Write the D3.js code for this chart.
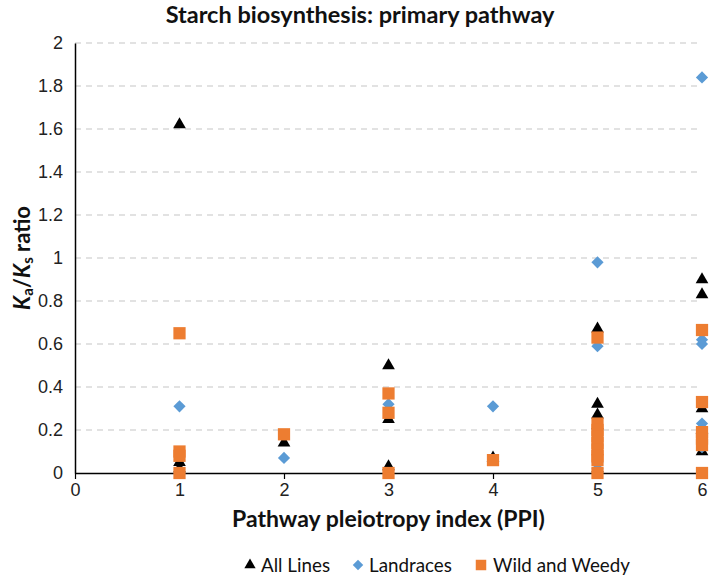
<!DOCTYPE html>
<html><head><meta charset="utf-8">
<script src="https://cdn.jsdelivr.net/npm/d3@7"></script>
<style>
html,body{margin:0;padding:0;background:#fff;}
svg{display:block;font-family:Lato,"Open Sans",sans-serif;}
</style></head>
<body>
<svg id="chart" width="709" height="576"></svg>
<script>
// ---- data ----
const xTicks = [0,1,2,3,4,5,6];
const yTicks = [0,0.2,0.4,0.6,0.8,1,1.2,1.4,1.6,1.8,2];
const seriesNames = ["All Lines","Landraces","Wild and Weedy"];
const allLinesPPI  = [1,1,1, 2, 3,3,3, 4, 5,5,5,5,5, 6,6,6,6,6];
const allLinesKaKs = [1.62,0.05,0.02, 0.14, 0.50,0.25,0.03, 0.07, 0.67,0.32,0.27,0.22,0.02, 0.90,0.83,0.30,0.20,0.10];
const landracesPPI  = [1,1, 2, 3, 4, 5,5,5,5,5, 6,6,6,6,6];
const landracesKaKs = [0.31,0.0, 0.07, 0.32, 0.31, 0.98,0.59,0.13,0.05,0.02, 1.84,0.62,0.60,0.23,0.12];
const wildPPI  = [1,1,1,1, 2, 3,3,3, 4, 5,5,5,5,5,5,5,5,5, 6,6,6,6,6,6];
const wildKaKs = [0.65,0.10,0.08,0.0, 0.18, 0.37,0.28,0.0, 0.06, 0.63,0.23,0.20,0.17,0.14,0.11,0.08,0.06,0.0, 0.665,0.33,0.19,0.16,0.13,0.0];

// ---- layout ----
const svg = d3.select("#chart");
const L = 75, R = 702, T = 43, B = 473;
const x = d3.scaleLinear().domain([0,6]).range([L,R]);
const y = d3.scaleLinear().domain([0,2]).range([B,T]);

const colors = {tri:"#000000", dia:"#5B9BD5", sq:"#ED7D31"};

// gridlines
svg.append("g").selectAll("line").data(yTicks.filter(d=>d>0)).join("line")
  .attr("x1",L).attr("x2",R).attr("y1",d=>y(d)).attr("y2",d=>y(d))
  .attr("stroke","#d9d9d9").attr("stroke-width",1.3).attr("stroke-dasharray","6,5");

// axes
const yAxis = d3.axisLeft(y).tickValues(yTicks).tickSize(0).tickPadding(12).tickFormat(d3.format("~g"));
const gy = svg.append("g").attr("transform",`translate(${L},0)`).call(yAxis);
gy.select(".domain").attr("stroke","#000").attr("stroke-width",1.5);
gy.selectAll("text").attr("font-size",18).attr("fill","#222");

const xAxis = d3.axisBottom(x).tickValues(xTicks).tickSize(6).tickPadding(4).tickSizeOuter(0).tickFormat(d3.format("d"));
const gx = svg.append("g").attr("transform",`translate(0,${B})`).call(xAxis);
gx.select(".domain").attr("stroke","#000").attr("stroke-width",1.5);
gx.selectAll(".tick line").attr("stroke","#000").attr("stroke-width",1.2);
gx.selectAll("text").attr("font-size",18).attr("fill","#222");

// markers
const tri = d3.symbol().type(d3.symbolTriangle).size(70);
const dia = d3.symbol().type(d3.symbolDiamond2).size(95);
const sq = d3.symbol().type(d3.symbolSquare).size(150);

function plot(xs, ys, sym, color){
  svg.append("g").selectAll("path").data(xs.map((d,i)=>[d,ys[i]])).join("path")
    .attr("d",sym).attr("fill",color)
    .attr("transform",d=>`translate(${x(d[0])},${y(d[1])})`);
}
plot(allLinesPPI, allLinesKaKs, tri, colors.tri);
plot(landracesPPI, landracesKaKs, dia, colors.dia);
plot(wildPPI, wildKaKs, sq, colors.sq);

// title
svg.append("text").attr("x",360).attr("y",23).attr("text-anchor","middle")
  .attr("font-size",23.5).attr("font-weight","bold").attr("fill","#111")
  .text("Starch biosynthesis: primary pathway");

// x title
svg.append("text").attr("x",(L+R)/2).attr("y",527).attr("text-anchor","middle")
  .attr("font-size",23).attr("font-weight","bold").attr("fill","#111")
  .text("Pathway pleiotropy index (PPI)");

// y title
const yt = svg.append("text").attr("transform",`translate(30,${(T+B)/2}) rotate(-90)`)
  .attr("text-anchor","middle").attr("font-size",22).attr("font-weight","bold").attr("fill","#111");
yt.append("tspan").attr("font-style","italic").text("K");
yt.append("tspan").attr("font-size",15).attr("dy",3).text("a");
yt.append("tspan").attr("dy",-3).text("/");
yt.append("tspan").attr("font-style","italic").text("K");
yt.append("tspan").attr("font-size",15).attr("dy",3).text("s");
yt.append("tspan").attr("dy",-3).text(" ratio");

// legend
const legendY = 566;
const legendItems = [
  {name:seriesNames[0], sym:d3.symbol().type(d3.symbolTriangle).size(55), color:colors.tri, mx:250, tx:261},
  {name:seriesNames[1], sym:d3.symbol().type(d3.symbolDiamond2).size(70), color:colors.dia, mx:358, tx:369},
  {name:seriesNames[2], sym:d3.symbol().type(d3.symbolSquare).size(110), color:colors.sq, mx:481, tx:493}
];
const lg = svg.append("g");
legendItems.forEach(it=>{
  lg.append("path").attr("d",it.sym).attr("fill",it.color).attr("transform",`translate(${it.mx},${legendY-1})`);
  lg.append("text").attr("x",it.tx).attr("y",legendY+6).attr("font-size",18.8).attr("fill","#111").text(it.name);
});
</script>
</body></html>
